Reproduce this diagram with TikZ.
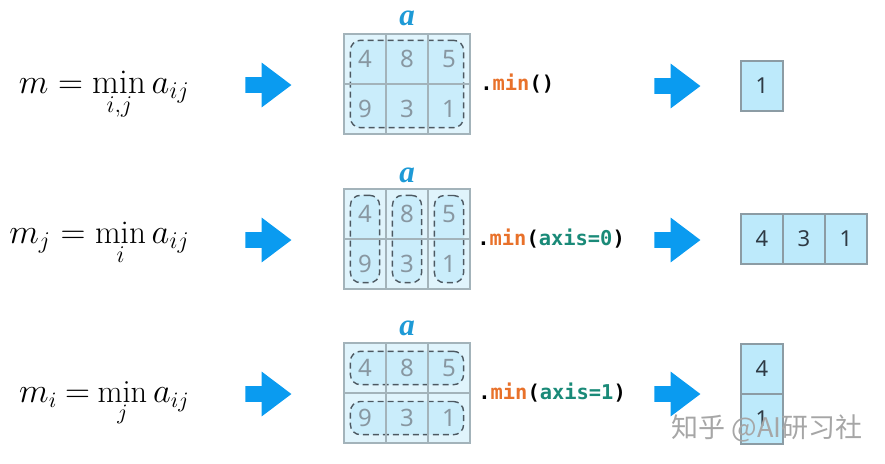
\documentclass[tikz,border=0pt]{standalone}
\usepackage{fontspec}
\newfontfamily\digitfont{Noto Sans}
\newfontfamily\codefont{DejaVu Sans Mono}
\newfontfamily\labelfont{Liberation Serif}
\newfontfamily\cjkfont{Noto Sans CJK SC}
\usetikzlibrary{positioning,matrix,fit,shapes.arrows,backgrounds}
\definecolor{gridline}{HTML}{A3B3BA}
\definecolor{cellfill}{HTML}{E0F4FC}
\definecolor{groupfill}{HTML}{CAEDFB}
\definecolor{dashline}{HTML}{4D5962}
\definecolor{digitgray}{HTML}{8897A1}
\definecolor{resfill}{HTML}{BDEAFB}
\definecolor{resline}{HTML}{8C9CA4}
\definecolor{resdigit}{HTML}{2E3A44}
\definecolor{arrowblue}{HTML}{0A9BF0}
\definecolor{labelblue}{HTML}{1E9AD6}
\definecolor{codeorange}{HTML}{E8712A}
\definecolor{codeteal}{HTML}{1A8A78}
\tikzset{
    every node/.style={
        font=\digitfont
    },
    cell/.style={
        shape=rectangle,
        draw=gridline,
        line width=0.6pt,
        minimum width=21pt,
        minimum height=25pt,
        inner sep=0pt,
        text=digitgray,
        font=\digitfont\fontsize{12}{14}\selectfont
    },
    result/.style={
        cell,
        fill=resfill,
        draw=resline,
        text=resdigit,
        font=\digitfont\fontsize{11}{13}\selectfont
    },
    grid/.style={
        matrix of nodes,
        inner sep=0pt,
        column sep=-0.6pt,
        row sep=-0.6pt
    },
    group/.style={
        shape=rectangle,
        draw=dashline,
        fill=groupfill,
        dash pattern=on 3pt off 2pt,
        line width=0.7pt,
        rounded corners=5pt,
        inner sep=-3.5pt
    },
    bigarrow/.style={
        shape=single arrow,
        fill=arrowblue,
        inner xsep=0pt,
        inner ysep=3.75pt,
        minimum height=23pt,
        single arrow head extend=7.25pt,
        single arrow tip angle=74,
        anchor=tail
    },
    arrname/.style={
        font=\labelfont\bfseries\itshape\fontsize{15.5}{18}\selectfont,
        text=labelblue
    },
    code/.style={
        anchor=west,
        inner sep=0pt,
        font=\codefont\bfseries\fontsize{10.2}{12}\selectfont
    },
    formula/.style={
        anchor=base east,
        inner sep=0pt,
        font=\fontsize{17.4}{20}\selectfont
    }
}
\newcommand{\mn}{\textcolor{codeorange}{min}}
\newcommand{\ax}[1]{\textcolor{codeteal}{axis=#1}}

\begin{document}
\begin{tikzpicture}[x=0.5pt,y=-0.5pt]
		\useasboundingbox (0,0) rectangle (885,463);
		% row 1: min over all
		\node (f1) at (190,93) [formula] {$\displaystyle m = \min_{i,j} a_{ij}$};
		\node (p1) at (245,85) [bigarrow] {};
		\matrix (g1) at (407,84) [grid, nodes={cell}] {
			4 & 8 & 5 \\
			9 & 3 & 1 \\
		};
		\node (a1) at (407,18) [arrname] {a};
		\node (c1) at (480,84) [code] {.\mn()};
		\node (q1) at (654,86) [bigarrow] {};
		\node (r1) at (762,86) [result] {1};
		% row 2: min along axis 0
		\node (f2) at (190,243) [formula, font=\fontsize{16.6}{20}\selectfont] {$\displaystyle m_j = \min_{i} a_{ij}$};
		\node (p2) at (245,240) [bigarrow] {};
		\matrix (g2) at (407,239) [grid, nodes={cell}] {
			4 & 8 & 5 \\
			9 & 3 & 1 \\
		};
		\node (a2) at (407,175) [arrname] {a};
		\node (c2) at (477,239) [code] {.\mn(\ax{0})};
		\node (q2) at (654,240) [bigarrow] {};
		\matrix (r2) at (804,239) [grid, nodes={result}] {
			4 & 3 & 1 \\
		};
		% row 3: min along axis 1
		\node (f3) at (190,402) [formula, font=\fontsize{16.2}{20}\selectfont] {$\thickmuskip=4mu \displaystyle m_i = \min_{j} a_{ij}$};
		\node (p3) at (245,394) [bigarrow] {};
		\matrix (g3) at (407,393) [grid, nodes={cell}] {
			4 & 8 & 5 \\
			9 & 3 & 1 \\
		};
		\node (a3) at (407,328) [arrname] {a};
		\node (c3) at (478,393) [code] {.\mn(\ax{1})};
		\node (q3) at (654,394) [bigarrow] {};
		\matrix (r3) at (762,394) [grid, nodes={result}] {
			4 \\
			1 \\
		};
		% Groups
		\begin{scope}[on background layer]
			\fill[cellfill] (g1.north west) rectangle (g1.south east);
			\fill[cellfill] (g2.north west) rectangle (g2.south east);
			\fill[cellfill] (g3.north west) rectangle (g3.south east);
			\node (all) [group, fit=(g1-1-1)(g1-2-3)] {};
			\node (col1) [group, fit=(g2-1-1)(g2-2-1)] {};
			\node (col2) [group, fit=(g2-1-2)(g2-2-2)] {};
			\node (col3) [group, fit=(g2-1-3)(g2-2-3)] {};
			\node (row1) [group, fit=(g3-1-1)(g3-1-3), inner ysep=-4.5pt] {};
			\node (row2) [group, fit=(g3-2-1)(g3-2-3), inner ysep=-4.5pt] {};
		\end{scope}
		\node (mark) at (767,428) [font=\cjkfont\fontsize{13.5}{15}\selectfont, text=black!35] {知乎 @AI研习社};
	\end{tikzpicture}
\end{document}
